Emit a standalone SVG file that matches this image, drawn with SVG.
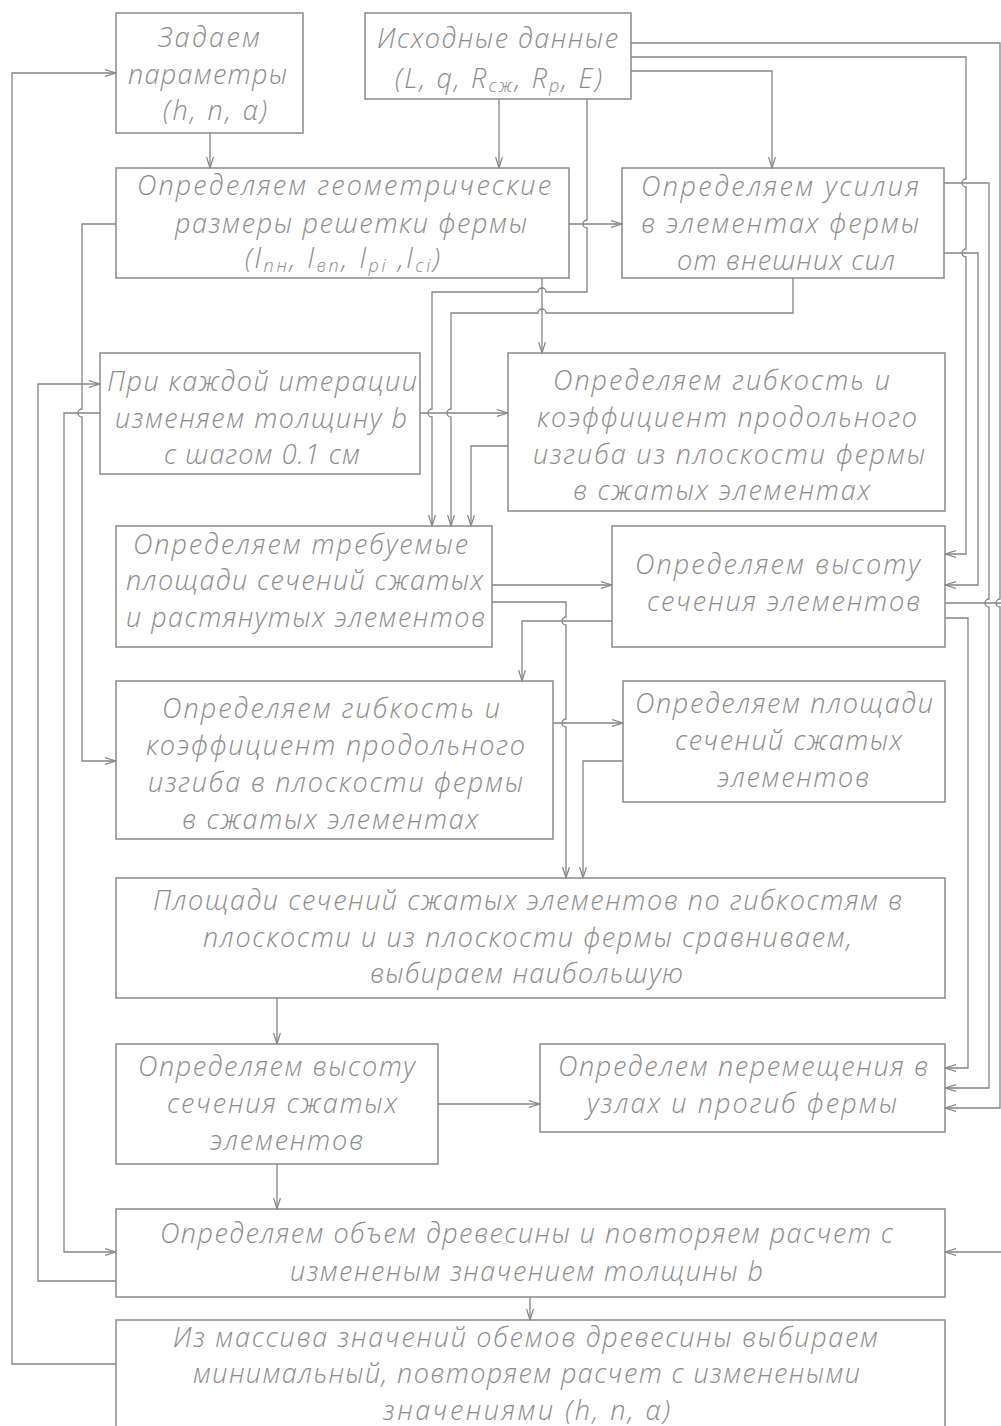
<svg xmlns="http://www.w3.org/2000/svg" width="1001" height="1426" viewBox="0 0 1001 1426">
<defs>
<style>
.b{fill:none;stroke:#8a8a8a;stroke-width:1.5}
.c{fill:none;stroke:#858585;stroke-width:1.3}
.t{font-family:"Open Sans","Liberation Sans",sans-serif;font-style:italic;font-weight:300;font-size:27px;fill:#8c8c8c}
.s{font-size:18px}
</style>
<marker id="a" markerWidth="12" markerHeight="8" refX="11" refY="4" orient="auto" markerUnits="userSpaceOnUse">
<path d="M0,0.6 L11,4 L0,7.4" fill="none" stroke="#858585" stroke-width="1.2"/>
</marker>
</defs>
<rect width="1001" height="1426" fill="#ffffff"/>
<g id="connectors">
<path class="c" d="M210,133 V168" marker-end="url(#a)"/>
<path class="c" d="M499,99 V168" marker-end="url(#a)"/>
<path class="c" d="M631,71 H772 V168" marker-end="url(#a)"/>
<path class="c" d="M631,57 H966 V179 A4,4 0 0,0 966,187 V249 A4,4 0 0,0 966,257 V554 H945" marker-end="url(#a)"/>
<path class="c" d="M631,43 H1000 V599 A4,4 0 0,0 1000,607 V1108 H945" marker-end="url(#a)"/>
<path class="c" d="M944,183 H989 V599 A4,4 0 0,0 989,607 V1088 H945" marker-end="url(#a)"/>
<path class="c" d="M944,253 H978 V585 H945" marker-end="url(#a)"/>
<path class="c" d="M945,603 H1006 V1252 H945" marker-end="url(#a)"/>
<path class="c" d="M945,618 H968 V1068 H945" marker-end="url(#a)"/>
<path class="c" d="M569,224 H622" marker-end="url(#a)"/>
<path class="c" d="M587,99 V220 A4,4 0 0,0 587,228 V292 H546 A4,4 0 0,0 538,292 H432 V409 A4,4 0 0,0 432,417 V526" marker-end="url(#a)"/>
<path class="c" d="M542,278 V353" marker-end="url(#a)"/>
<path class="c" d="M793,278 V313 H546 A4,4 0 0,0 538,313 H451 V409 A4,4 0 0,0 451,417 V526" marker-end="url(#a)"/>
<path class="c" d="M508,446 H471 V526" marker-end="url(#a)"/>
<path class="c" d="M420,413 H508" marker-end="url(#a)"/>
<path class="c" d="M116,224 H82 V409 A4,4 0 0,0 82,417 V761 H116" marker-end="url(#a)"/>
<path class="c" d="M116,1281 H38 V384 H100" marker-end="url(#a)"/>
<path class="c" d="M100,413 H64 V1252 H116" marker-end="url(#a)"/>
<path class="c" d="M116,1364 H12 V73 H116" marker-end="url(#a)"/>
<path class="c" d="M492,585 H612" marker-end="url(#a)"/>
<path class="c" d="M492,602 H566 V617 A4,4 0 0,0 566,625 V719 A4,4 0 0,0 566,727 V878" marker-end="url(#a)"/>
<path class="c" d="M612,621 H522 V681" marker-end="url(#a)"/>
<path class="c" d="M553,723 H623" marker-end="url(#a)"/>
<path class="c" d="M623,761 H583 V878" marker-end="url(#a)"/>
<path class="c" d="M277,998 V1044" marker-end="url(#a)"/>
<path class="c" d="M438,1104 H540" marker-end="url(#a)"/>
<path class="c" d="M277,1164 V1209" marker-end="url(#a)"/>
<path class="c" d="M530,1297 V1320" marker-end="url(#a)"/>
</g>
<g id="n1">
<rect class="b" x="116" y="13" width="187" height="120"/>
<text class="t" x="158" y="47" textLength="102" lengthAdjust="spacing">Задаем</text>
<text class="t" x="128" y="84" textLength="159" lengthAdjust="spacing">параметры</text>
<text class="t" x="163" y="120" textLength="104" lengthAdjust="spacing">(h, n, α)</text>
</g>
<g id="n2">
<rect class="b" x="365" y="13" width="266" height="86"/>
<text class="t" x="377" y="48" textLength="241" lengthAdjust="spacing">Исходные данные</text>
<text class="t" x="395" y="88" textLength="207" lengthAdjust="spacing">(L, q, R<tspan class="s" dy="4">сж</tspan><tspan dy="-4">, R</tspan><tspan class="s" dy="4">р</tspan><tspan dy="-4">, E)</tspan></text>
</g>
<g id="n3">
<rect class="b" x="116" y="168" width="453" height="110"/>
<text class="t" x="137" y="195" textLength="414" lengthAdjust="spacing">Определяем геометрические</text>
<text class="t" x="175" y="233" textLength="352" lengthAdjust="spacing">размеры решетки фермы</text>
<text class="t" x="245" y="268" textLength="195" lengthAdjust="spacing">(l<tspan class="s" dy="4">пн</tspan><tspan dy="-4">, l</tspan><tspan class="s" dy="4">вп</tspan><tspan dy="-4">, l</tspan><tspan class="s" dy="4">pi</tspan><tspan dy="-4"> ,l</tspan><tspan class="s" dy="4">ci</tspan><tspan dy="-4">)</tspan></text>
</g>
<g id="n4">
<rect class="b" x="622" y="168" width="322" height="110"/>
<text class="t" x="641" y="196" textLength="278" lengthAdjust="spacing">Определяем усилия</text>
<text class="t" x="641" y="233" textLength="278" lengthAdjust="spacing">в элементах фермы</text>
<text class="t" x="677" y="270" textLength="218" lengthAdjust="spacing">от внешних сил</text>
</g>
<g id="n5">
<rect class="b" x="100" y="353" width="320" height="121"/>
<text class="t" x="107" y="391" textLength="310" lengthAdjust="spacing">При каждой итерации</text>
<text class="t" x="115" y="428" textLength="292" lengthAdjust="spacing">изменяем толщину b</text>
<text class="t" x="164" y="464" textLength="196" lengthAdjust="spacing">с шагом 0.1 см</text>
</g>
<g id="n6">
<rect class="b" x="508" y="353" width="437" height="158"/>
<text class="t" x="553" y="390" textLength="337" lengthAdjust="spacing">Определяем гибкость и</text>
<text class="t" x="537" y="427" textLength="380" lengthAdjust="spacing">коэффициент продольного</text>
<text class="t" x="533" y="464" textLength="392" lengthAdjust="spacing">изгиба из плоскости фермы</text>
<text class="t" x="573" y="500" textLength="297" lengthAdjust="spacing">в сжатых элементах</text>
</g>
<g id="n7">
<rect class="b" x="116" y="526" width="376" height="121"/>
<text class="t" x="133" y="554" textLength="335" lengthAdjust="spacing">Определяем требуемые</text>
<text class="t" x="126" y="590" textLength="357" lengthAdjust="spacing">площади сечений сжатых</text>
<text class="t" x="126" y="627" textLength="359" lengthAdjust="spacing">и растянутых элементов</text>
</g>
<g id="n8">
<rect class="b" x="612" y="526" width="333" height="121"/>
<text class="t" x="635" y="574" textLength="285" lengthAdjust="spacing">Определяем высоту</text>
<text class="t" x="647" y="611" textLength="273" lengthAdjust="spacing">сечения элементов</text>
</g>
<g id="n9">
<rect class="b" x="116" y="681" width="437" height="158"/>
<text class="t" x="162" y="718" textLength="338" lengthAdjust="spacing">Определяем гибкость и</text>
<text class="t" x="146" y="755" textLength="379" lengthAdjust="spacing">коэффициент продольного</text>
<text class="t" x="148" y="792" textLength="375" lengthAdjust="spacing">изгиба в плоскости фермы</text>
<text class="t" x="182" y="829" textLength="296" lengthAdjust="spacing">в сжатых элементах</text>
</g>
<g id="n10">
<rect class="b" x="623" y="681" width="322" height="121"/>
<text class="t" x="635" y="713" textLength="298" lengthAdjust="spacing">Определяем площади</text>
<text class="t" x="675" y="750" textLength="227" lengthAdjust="spacing">сечений сжатых</text>
<text class="t" x="717" y="787" textLength="152" lengthAdjust="spacing">элементов</text>
</g>
<g id="n11">
<rect class="b" x="116" y="878" width="829" height="120"/>
<text class="t" x="153" y="910" textLength="749" lengthAdjust="spacing">Площади сечений сжатых элементов по гибкостям в</text>
<text class="t" x="203" y="947" textLength="649" lengthAdjust="spacing">плоскости и из плоскости фермы сравниваем,</text>
<text class="t" x="370" y="983" textLength="313" lengthAdjust="spacing">выбираем наибольшую</text>
</g>
<g id="n12">
<rect class="b" x="116" y="1044" width="322" height="120"/>
<text class="t" x="138" y="1076" textLength="277" lengthAdjust="spacing">Определяем высоту</text>
<text class="t" x="167" y="1113" textLength="230" lengthAdjust="spacing">сечения сжатых</text>
<text class="t" x="210" y="1150" textLength="153" lengthAdjust="spacing">элементов</text>
</g>
<g id="n13">
<rect class="b" x="540" y="1044" width="405" height="88"/>
<text class="t" x="558" y="1076" textLength="370" lengthAdjust="spacing">Определем перемещения в</text>
<text class="t" x="587" y="1113" textLength="310" lengthAdjust="spacing">узлах и прогиб фермы</text>
</g>
<g id="n14">
<rect class="b" x="116" y="1209" width="829" height="88"/>
<text class="t" x="160" y="1243" textLength="733" lengthAdjust="spacing">Определяем объем древесины и повторяем расчет с</text>
<text class="t" x="290" y="1281" textLength="473" lengthAdjust="spacing">измененым значением толщины b</text>
</g>
<g id="n15">
<rect class="b" x="116" y="1320" width="829" height="130"/>
<text class="t" x="173" y="1347" textLength="705" lengthAdjust="spacing">Из массива значений обемов древесины выбираем</text>
<text class="t" x="193" y="1383" textLength="667" lengthAdjust="spacing">минимальный, повторяем расчет с изменеными</text>
<text class="t" x="383" y="1420" textLength="287" lengthAdjust="spacing">значениями (h, n, α)</text>
</g>
</svg>
